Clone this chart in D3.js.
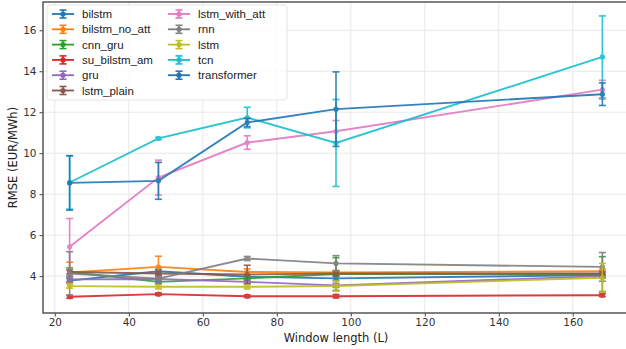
<!DOCTYPE html>
<html lang="en">
<head>
  <meta charset="UTF-8" />
  <title>RMSE vs window length</title>
  <script src="https://d3js.org/d3.v7.min.js"></script>
  <style>
    body { margin: 0; background: #fff; }
    svg { display: block; font-family: "DejaVu Sans", sans-serif; }
  </style>
</head>
<body>
  <svg width="626" height="349" id="chart"></svg>

  <script>
    const windows = [24, 48, 72, 96, 168];
    const models = ["bilstm", "bilstm_no_att", "cnn_gru", "su_bilstm_am", "gru", "lstm_plain",
                    "lstm_with_att", "rnn", "lstm", "tcn", "transformer"];
    const colors = ["#1f77b4", "#ff7f0e", "#2ca02c", "#d62728", "#9467bd", "#8c564b",
                    "#e377c2", "#7f7f7f", "#bcbd22", "#17becf", "#1f77b4"];

    // mean RMSE per window length
    const bilstm       = [3.78, 4.24, 3.97, 3.89, 4.05];
    const bilstmNoAtt  = [4.18, 4.45, 4.20, 4.18, 4.24];
    const cnnGru       = [4.20, 3.72, 3.89, 4.10, 4.10];
    const suBilstmAm   = [2.99, 3.12, 3.02, 3.02, 3.07];
    const gru          = [3.84, 3.86, 3.72, 3.55, 4.00];
    const lstmPlain    = [4.20, 4.13, 4.08, 4.13, 4.13];
    const lstmWithAtt  = [5.43, 8.81, 10.52, 11.07, 13.10];
    const rnn          = [4.13, 3.88, 4.86, 4.62, 4.45];
    const lstm         = [3.51, 3.48, 3.48, 3.52, 3.92];
    const tcn          = [8.57, 10.72, 11.74, 10.50, 14.70];
    const transformer  = [8.55, 8.65, 11.50, 12.15, 12.88];

    // standard deviation (error bars)
    const bilstmErr      = [0.10, 0.10, 0.10, 0.10, 0.10];
    const bilstmNoAttErr = [0.50, 0.52, 0.15, 0.10, 0.10];
    const cnnGruErr      = [0.20, 0.10, 0.10, 0.80, 0.85];
    const suBilstmAmErr  = [0.07, 0.06, 0.06, 0.08, 0.07];
    const gruErr         = [0.10, 0.20, 0.10, 0.10, 0.10];
    const lstmPlainErr   = [0.10, 0.10, 0.45, 0.10, 0.10];
    const lstmWithAttErr = [1.38, 0.85, 0.33, 0.53, 0.46];
    const rnnErr         = [1.06, 0.10, 0.10, 0.38, 0.70];
    const lstmErr        = [0.10, 0.10, 0.10, 0.25, 0.70];
    const tcnErr         = [1.30, 0.05, 0.50, 2.12, 2.00];
    const transformerErr = [1.33, 0.90, 0.20, 1.82, 0.55];

    const xTicks = [20, 40, 60, 80, 100, 120, 140, 160];
    const yTicks = [4, 6, 8, 10, 12, 14, 16];

    const means = [bilstm, bilstmNoAtt, cnnGru, suBilstmAm, gru, lstmPlain,
                   lstmWithAtt, rnn, lstm, tcn, transformer];
    const errs = [bilstmErr, bilstmNoAttErr, cnnGruErr, suBilstmAmErr, gruErr, lstmPlainErr,
                  lstmWithAttErr, rnnErr, lstmErr, tcnErr, transformerErr];

    const series = models.map((name, i) => ({
      name,
      color: colors[i],
      points: windows.map((w, j) => ({ x: w, y: means[i][j], e: errs[i][j] }))
    }));

    const svg = d3.select("#chart");
    const pL = 43, pR = 629, pT = 2, pB = 313;

    const x = d3.scaleLinear().domain([16.8, 175.2]).range([pL, pR]);
    const y = d3.scaleLinear().domain([2.2, 17.38]).range([pB, pT]);

    // grid
    svg.append("g").selectAll("line").data(xTicks).join("line")
      .attr("x1", d => x(d)).attr("x2", d => x(d))
      .attr("y1", pT).attr("y2", pB)
      .attr("stroke", "#e8e8e8").attr("stroke-width", 1);
    svg.append("g").selectAll("line").data(yTicks).join("line")
      .attr("x1", pL).attr("x2", pR)
      .attr("y1", d => y(d)).attr("y2", d => y(d))
      .attr("stroke", "#e8e8e8").attr("stroke-width", 1);

    // axes
    const xAxis = svg.append("g").attr("transform", `translate(0,${pB})`)
      .call(d3.axisBottom(x).tickValues(xTicks).tickSize(3.5).tickPadding(2));
    const yAxis = svg.append("g").attr("transform", `translate(${pL},0)`)
      .call(d3.axisLeft(y).tickValues(yTicks).tickSize(3.5).tickPadding(3));
    [xAxis, yAxis].forEach(g => {
      g.select(".domain").remove();
      g.selectAll(".tick line").attr("stroke", "#444");
      g.selectAll(".tick text").attr("fill", "#333").attr("font-size", 10.5)
        .attr("font-family", "DejaVu Sans, sans-serif");
    });

    // frame
    svg.append("rect")
      .attr("x", pL).attr("y", pT)
      .attr("width", pR - pL).attr("height", pB - pT)
      .attr("fill", "none").attr("stroke", "#555").attr("stroke-width", 1.5);

    // series
    const line = d3.line().x(d => x(d.x)).y(d => y(d.y));
    const capW = 3.5;
    series.forEach(s => {
      const g = svg.append("g").attr("opacity", 0.9);
      g.append("path").datum(s.points)
        .attr("d", line).attr("fill", "none")
        .attr("stroke", s.color).attr("stroke-width", 1.9);
      const eb = g.selectAll(".eb").data(s.points).join("g");
      eb.append("line")
        .attr("x1", d => x(d.x)).attr("x2", d => x(d.x))
        .attr("y1", d => y(d.y - d.e)).attr("y2", d => y(d.y + d.e))
        .attr("stroke", s.color).attr("stroke-width", 1.6);
      [-1, 1].forEach(sign => {
        eb.append("line")
          .attr("x1", d => x(d.x) - capW).attr("x2", d => x(d.x) + capW)
          .attr("y1", d => y(d.y + sign * d.e)).attr("y2", d => y(d.y + sign * d.e))
          .attr("stroke", s.color).attr("stroke-width", 1.6);
      });
      g.selectAll("circle").data(s.points).join("circle")
        .attr("cx", d => x(d.x)).attr("cy", d => y(d.y)).attr("r", 2.6)
        .attr("fill", s.color);
    });

    // axis titles
    svg.append("text")
      .attr("x", (pL + pR) / 2).attr("y", 342)
      .attr("text-anchor", "middle").attr("font-size", 11.5).attr("fill", "#222")
      .text("Window length (L)");
    svg.append("text")
      .attr("transform", `translate(17,${(pT + pB) / 2}) rotate(-90)`)
      .attr("text-anchor", "middle").attr("font-size", 11.5).attr("fill", "#222")
      .text("RMSE (EUR/MWh)");

    // legend
    const legend = svg.append("g");
    legend.append("rect")
      .attr("x", 47).attr("y", 5).attr("width", 240).attr("height", 95).attr("rx", 3)
      .attr("fill", "#fff").attr("fill-opacity", 0.8)
      .attr("stroke", "#ddd").attr("stroke-width", 0.8);
    const rowH = 15.3;
    series.forEach((s, i) => {
      const col = i < 6 ? 0 : 1;
      const row = i < 6 ? i : i - 6;
      const hx = col === 0 ? 52 : 168;
      const hy = 14 + row * rowH;
      const item = legend.append("g").attr("transform", `translate(${hx},${hy})`);
      item.append("line").attr("x1", 0).attr("x2", 22).attr("y1", 0).attr("y2", 0)
        .attr("stroke", s.color).attr("stroke-width", 1.8);
      item.append("line").attr("x1", 11).attr("x2", 11).attr("y1", -4).attr("y2", 4)
        .attr("stroke", s.color).attr("stroke-width", 1.6);
      [-4, 4].forEach(dy => item.append("line")
        .attr("x1", 7.5).attr("x2", 14.5).attr("y1", dy).attr("y2", dy)
        .attr("stroke", s.color).attr("stroke-width", 1.6));
      item.append("circle").attr("cx", 11).attr("cy", 0).attr("r", 2.6).attr("fill", s.color);
      item.append("text").attr("x", 30).attr("y", 4).attr("font-size", 11.5)
        .attr("font-family", "Liberation Sans, sans-serif").attr("fill", "#222")
        .text(s.name);
    });
  </script>
</body>
</html>
